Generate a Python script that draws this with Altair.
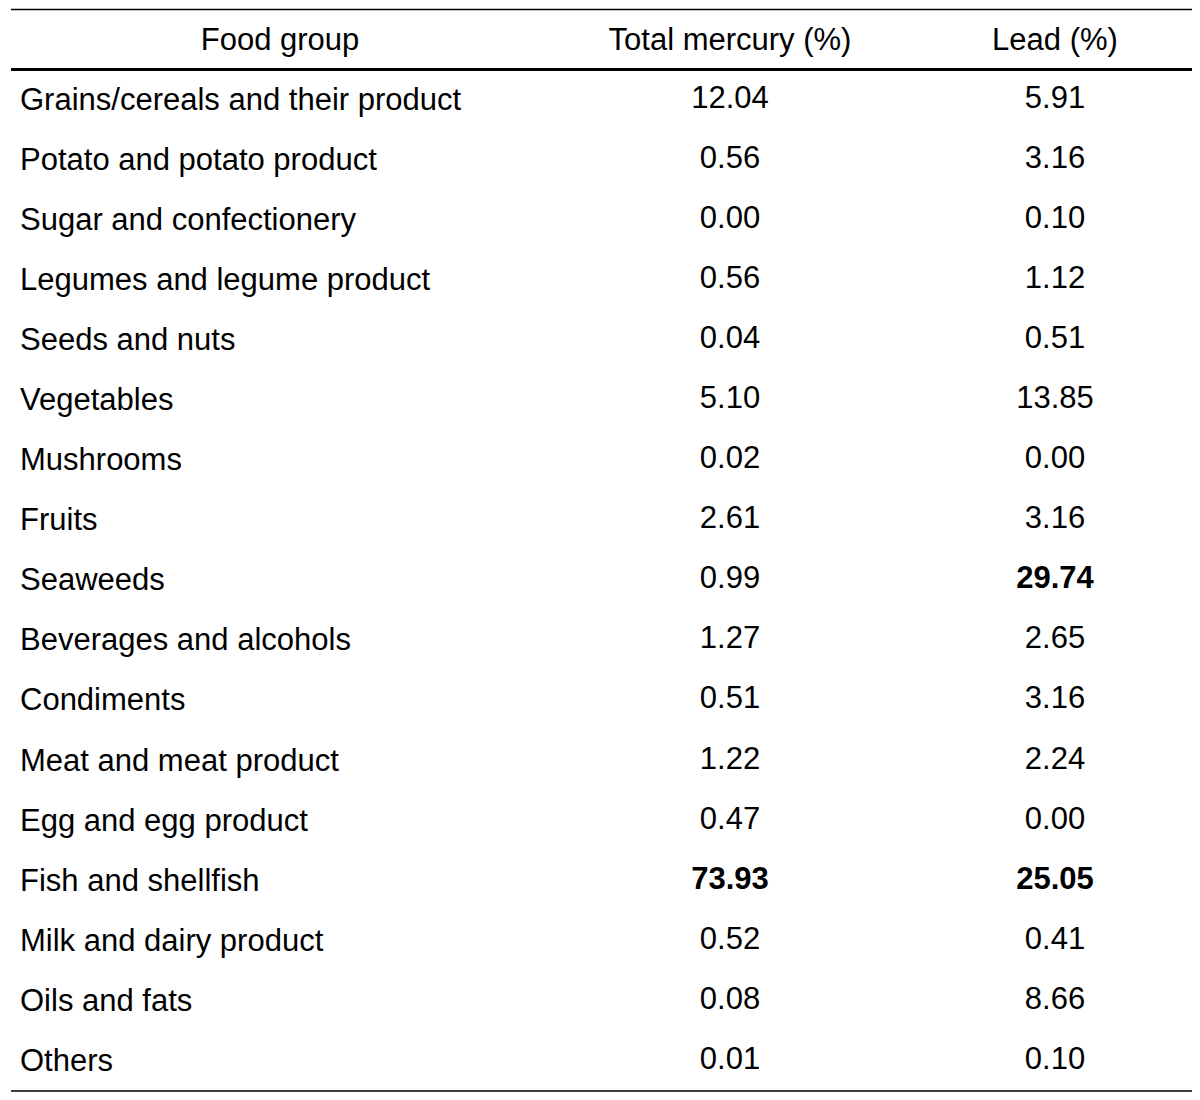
import altair as alt
import pandas as pd

food_groups = [
    "Grains/cereals and their product",
    "Potato and potato product",
    "Sugar and confectionery",
    "Legumes and legume product",
    "Seeds and nuts",
    "Vegetables",
    "Mushrooms",
    "Fruits",
    "Seaweeds",
    "Beverages and alcohols",
    "Condiments",
    "Meat and meat product",
    "Egg and egg product",
    "Fish and shellfish",
    "Milk and dairy product",
    "Oils and fats",
    "Others",
]
total_mercury = [12.04, 0.56, 0.00, 0.56, 0.04, 5.10, 0.02, 2.61, 0.99, 1.27, 0.51, 1.22, 0.47, 73.93, 0.52, 0.08, 0.01]
lead = [5.91, 3.16, 0.10, 1.12, 0.51, 13.85, 0.00, 3.16, 29.74, 2.65, 3.16, 2.24, 0.00, 25.05, 0.41, 8.66, 0.10]
headers = ["Food group", "Total mercury (%)", "Lead (%)"]
bold_mercury = ["Fish and shellfish"]
bold_lead = ["Seaweeds", "Fish and shellfish"]

FONT = "Liberation Sans"
FS = 31
W, H = 1184, 1084
N = len(food_groups)

df = pd.DataFrame({
    "row": list(range(1, N + 1)),
    "name": food_groups,
    "mercury": total_mercury,
    "lead": lead,
    "bold_m": [g in bold_mercury for g in food_groups],
    "bold_l": [g in bold_lead for g in food_groups],
})
head_df = pd.DataFrame({"row": [0], "h0": [headers[0]], "h1": [headers[1]], "h2": [headers[2]]})
rules_df = pd.DataFrame({"pos": [-0.5, 0.5, N + 0.5], "w": [1.5, 3, 1.5]})

yscale = alt.Scale(domain=[-0.5, N + 0.5], range=[1.5, 1083], nice=False, zero=False)
y = alt.Y("row:Q", scale=yscale, axis=None)

X_LINE0, X_LINE1 = 3, W
X_NAME, X_FOOD_HEAD, X_MERC, X_LEAD = 12, 272, 722, 1047

rules = alt.Chart(rules_df).mark_rule(color="black").encode(
    x=alt.value(X_LINE0), x2=alt.value(X_LINE1),
    y=alt.Y("pos:Q", scale=yscale, axis=None),
    strokeWidth=alt.StrokeWidth("w:Q", scale=None, legend=None),
)

def txt(data, **kw):
    base = dict(font=FONT, fontSize=FS, baseline="middle", color="black")
    base.update(kw)
    return alt.Chart(data).mark_text(**base)

header = alt.layer(
    txt(head_df, align="center", dy=1).encode(x=alt.value(X_FOOD_HEAD), y=y, text="h0:N"),
    txt(head_df, align="center", dy=1).encode(x=alt.value(X_MERC), y=y, text="h1:N"),
    txt(head_df, align="center", dy=1).encode(x=alt.value(X_LEAD), y=y, text="h2:N"),
)

names = txt(df, align="left", dy=1).encode(x=alt.value(X_NAME), y=y, text="name:N")

merc = txt(df, align="center", dy=-1).transform_filter("!datum.bold_m").encode(
    x=alt.value(X_MERC), y=y, text=alt.Text("mercury:Q", format=".2f"))
merc_b = txt(df, align="center", dy=-1, fontWeight="bold").transform_filter("datum.bold_m").encode(
    x=alt.value(X_MERC), y=y, text=alt.Text("mercury:Q", format=".2f"))
lead_t = txt(df, align="center", dy=-1).transform_filter("!datum.bold_l").encode(
    x=alt.value(X_LEAD), y=y, text=alt.Text("lead:Q", format=".2f"))
lead_b = txt(df, align="center", dy=-1, fontWeight="bold").transform_filter("datum.bold_l").encode(
    x=alt.value(X_LEAD), y=y, text=alt.Text("lead:Q", format=".2f"))

chart = alt.layer(rules, header, names, merc, merc_b, lead_t, lead_b).properties(
    width=W, height=H, padding=0,
    autosize=alt.AutoSizeParams(type="fit", contains="padding"),
).configure_view(strokeWidth=0)

chart.save("out.html", embed_options={"renderer": "svg", "actions": False})
